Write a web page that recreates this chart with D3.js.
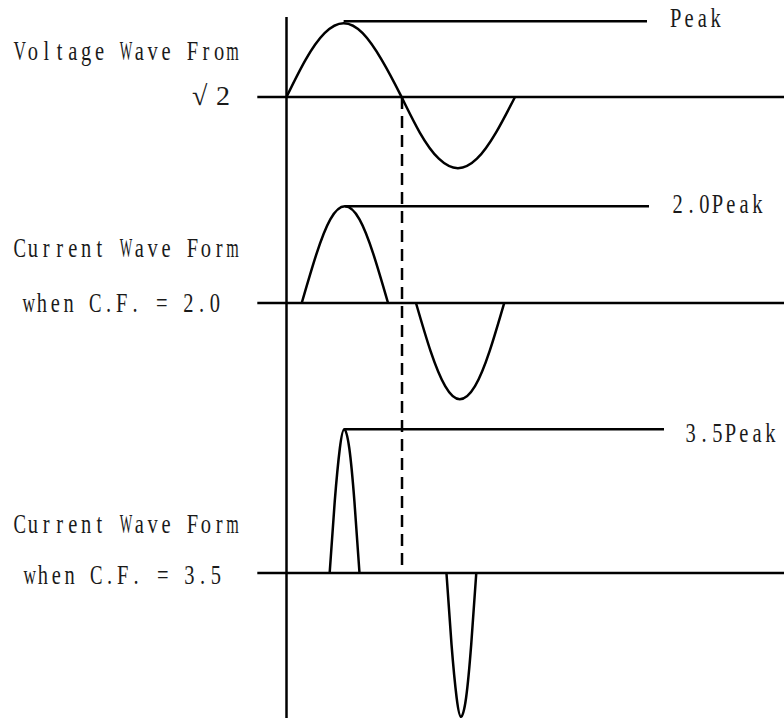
<!DOCTYPE html>
<head>
  <meta charset="utf-8">
  <title>Crest factor waveforms</title>
  <script src="https://d3js.org/d3.v7.min.js"></script>
  <style>
    body { margin: 0; background: #fff; }
  </style>
</head>
<body>
  <div id="root"></div>
  <script>
    // phase in degrees, amplitude in units where the voltage peak = sqrt(2)
    var voltagePhase = [0, 30, 60, 90, 120, 150, 180, 210, 240, 270, 300, 330, 360];
    var voltageValue = [0, 0.71, 1.22, 1.41, 1.22, 0.71, 0.03, -0.68, -1.18, -1.36, -1.18, -0.68, 0];

    var cf2PosPhase = [24, 47, 69, 92, 115, 137, 160];
    var cf2PosValue = [0, 0.93, 1.60, 1.85, 1.60, 0.93, 0];
    var cf2NegPhase = [204, 227, 250, 273, 297, 320, 343];
    var cf2NegValue = [0, -0.92, -1.59, -1.84, -1.59, -0.92, 0];

    var cf35PosPhase = [68, 76, 84, 91, 99, 107, 115];
    var cf35PosValue = [0, 1.37, 2.38, 2.75, 2.38, 1.37, 0];
    var cf35NegPhase = [252, 260, 268, 275, 283, 291, 299];
    var cf35NegValue = [0, -1.37, -2.38, -2.75, -2.38, -1.37, 0];

    var zeroCrossPhase = 182;

    var rowTitles = ["Voltage Wave From", "Current Wave Form", "Current Wave Form"];
    var rowSubtitles = ["\u221A2", "when C.F. = 2.0", "when C.F. = 3.5"];
    var peakLabels = ["Peak", "2.0Peak", "3.5Peak"];

    var width = 784, height = 721;
    var unit = 52.3; // px per amplitude unit
    var fontFamily = "'Liberation Serif', 'Times New Roman', 'DejaVu Serif', serif";

    var svg = d3.select("#root").append("svg")
      .attr("width", width)
      .attr("height", height);

    svg.append("rect").attr("width", width).attr("height", height).attr("fill", "#fff");

    var x = d3.scaleLinear().domain([0, 360]).range([286.5, 515]);

    // layout of the three rows
    var rows = [
      { base: 97,  waves: [[voltagePhase, voltageValue]], peakLift: 2,
        peakEnd: 647, labelX: 669, labelY: 27,
        titleX: 13, titleY: 60, subX: 192, subY: 105 },
      { base: 303, waves: [[cf2PosPhase, cf2PosValue], [cf2NegPhase, cf2NegValue]], peakLift: 0,
        peakEnd: 649, labelX: 671, labelY: 213,
        titleX: 13, titleY: 257, subX: 22, subY: 312 },
      { base: 573, waves: [[cf35PosPhase, cf35PosValue], [cf35NegPhase, cf35NegValue]], peakLift: 0,
        peakEnd: 664, labelX: 684, labelY: 442,
        titleX: 13, titleY: 533, subX: 23, subY: 584 }
    ];

    var strokeW = 2.5;

    // text on a fixed character cell (like a half-width CJK font);
    // each glyph is narrowed just enough to stay inside its cell
    function cellText(str, x0, yb) {
      var sx = 0.82, sy = 1.12, cw = 13.3;
      var g = svg.append("g").attr("class", "label");
      g.selectAll("text")
        .data(str.split(""))
        .join("text")
          .attr("text-anchor", "middle")
          .attr("font-family", fontFamily)
          .attr("font-size", 25)
          .attr("fill", "#1a1a1a")
          .style("white-space", "pre")
          .text(function(c) { return c; })
          .attr("transform", function(c, i) {
            var w = this.getComputedTextLength() || 1;
            var k = Math.min(sx, 0.94 * cw / w);
            return "translate(" + (x0 + (i + 0.5) * cw) + "," + yb + ") scale(" + k + "," + sy + ")";
          });
    }

    rows.forEach(function(row, r) {
      var y = d3.scaleLinear().domain([0, 1]).range([row.base, row.base - unit]);

      // baseline
      svg.append("line")
        .attr("x1", x(-46)).attr("x2", width)
        .attr("y1", row.base).attr("y2", row.base)
        .attr("stroke", "#000").attr("stroke-width", strokeW);

      var line = d3.line()
        .x(function(d) { return x(d[0]); })
        .y(function(d) { return y(d[1]); })
        .curve(d3.curveNatural);

      var peakPhase = 0, peakValue = 0;
      row.waves.forEach(function(w) {
        var pts = w[0].map(function(p, i) { return [p, w[1][i]]; });
        pts.forEach(function(p) { if (p[1] > peakValue) { peakValue = p[1]; peakPhase = p[0]; } });
        svg.append("path")
          .attr("d", line(pts))
          .attr("fill", "none")
          .attr("stroke", "#000")
          .attr("stroke-width", strokeW);
      });

      // peak reference line
      svg.append("line")
        .attr("x1", x(peakPhase)).attr("x2", row.peakEnd)
        .attr("y1", y(peakValue) - row.peakLift).attr("y2", y(peakValue) - row.peakLift)
        .attr("stroke", "#000").attr("stroke-width", strokeW);

      cellText(peakLabels[r], row.labelX, row.labelY);
      cellText(rowTitles[r], row.titleX, row.titleY);
      if (r === 0) {
        svg.append("text")
          .attr("x", row.subX).attr("y", row.subY)
          .attr("textLength", 38).attr("lengthAdjust", "spacing")
          .attr("font-family", fontFamily)
          .attr("font-size", 28)
          .attr("fill", "#1a1a1a")
          .text(rowSubtitles[r]);
      } else {
        cellText(rowSubtitles[r], row.subX, row.subY);
      }
    });

    // vertical time axis
    svg.append("line")
      .attr("x1", x(0)).attr("x2", x(0))
      .attr("y1", 17).attr("y2", 718)
      .attr("stroke", "#000").attr("stroke-width", strokeW);

    // dashed marker at the voltage zero crossing
    svg.append("line")
      .attr("x1", x(zeroCrossPhase)).attr("x2", x(zeroCrossPhase))
      .attr("y1", rows[0].base).attr("y2", rows[2].base)
      .attr("stroke", "#000").attr("stroke-width", strokeW)
      .attr("stroke-dasharray", "12,7");
  </script>
</body>
